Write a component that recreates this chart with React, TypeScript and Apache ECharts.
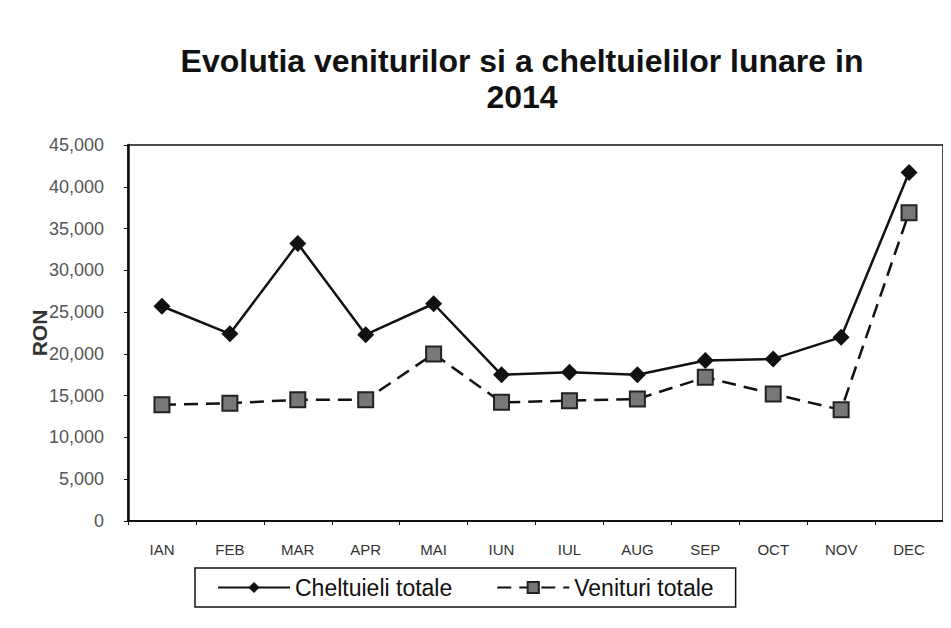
import React, { useEffect, useRef } from "react";
import * as echarts from "echarts";

const months = ["IAN", "FEB", "MAR", "APR", "MAI", "IUN", "IUL", "AUG", "SEP", "OCT", "NOV", "DEC"];
const cheltuieli = [25700, 22400, 33200, 22300, 26000, 17500, 17800, 17500, 19200, 19400, 22000, 41700];
const venituri = [13900, 14100, 14500, 14500, 20000, 14200, 14400, 14600, 17200, 15200, 13300, 36900];
const yTicks = [0, 5000, 10000, 15000, 20000, 25000, 30000, 35000, 40000, 45000];

const fmt = (v: number) => (v === 0 ? "0" : `${Math.floor(v / 1000)},${String(v % 1000).padStart(3, "0")}`);

export default function App() {
  const ref = useRef<HTMLDivElement>(null);
  useEffect(() => {
    if (!ref.current) return;
    const chart = echarts.init(ref.current, undefined, { renderer: "svg" });
    chart.setOption({
      animation: false,
      backgroundColor: "#ffffff",
      textStyle: { fontFamily: "Liberation Sans, Arial, sans-serif" },
      title: {
        text: "Evolutia veniturilor si a cheltuielilor lunare in\n2014",
        left: 509,
        textAlign: "center",
        top: 30,
        textStyle: { fontSize: 32, fontWeight: "bold", color: "#111", lineHeight: 36 },
      },
      grid: {
        left: 120,
        top: 137,
        right: 0,
        bottom: 99,
        show: true,
        borderColor: "#111",
        borderWidth: 1.5,
        containLabel: false,
      },
      legend: {
        left: 187,
        top: 560,
        itemWidth: 72,
        itemHeight: 14,
        itemGap: 44,
        padding: [8, 22, 8, 22],
        borderColor: "#111",
        borderWidth: 1.5,
        textStyle: { fontSize: 23, color: "#111" },
        data: ["Cheltuieli totale", "Venituri totale"],
      },
      xAxis: {
        type: "category",
        data: months,
        boundaryGap: true,
        axisLine: { lineStyle: { color: "#111", width: 2 } },
        axisTick: { show: true, length: 4, lineStyle: { color: "#111" } },
        axisLabel: { fontSize: 15, color: "#333", margin: 21 },
      },
      yAxis: {
        type: "value",
        min: 0,
        max: 45000,
        interval: 5000,
        name: "RON",
        nameLocation: "middle",
        nameGap: 78,
        nameMoveOverlap: false,
        nameRotate: 90,
        nameTextStyle: { fontSize: 21, fontWeight: "bold", color: "#333" },
        axisLine: { show: true, lineStyle: { color: "#111", width: 2.5 } },
        axisTick: { show: true, length: 4, lineStyle: { color: "#111" } },
        splitLine: { show: false },
        axisLabel: {
          fontSize: 18,
          color: "#555",
          margin: 24,
          formatter: (v: number) => (yTicks.includes(v) ? fmt(v) : ""),
        },
      },
      series: [
        {
          name: "Cheltuieli totale",
          type: "line",
          data: cheltuieli,
          symbol: "diamond",
          symbolSize: 17,
          lineStyle: { color: "#111", width: 2.5, type: "solid" },
          itemStyle: { color: "#111" },
        },
        {
          name: "Venituri totale",
          type: "line",
          data: venituri,
          symbol: "rect",
          symbolSize: 15,
          lineStyle: { color: "#111", width: 2.5, type: [14, 8] },
          itemStyle: { color: "#777", borderColor: "#222", borderWidth: 2 },
        },
      ],
    });
    return () => chart.dispose();
  }, []);
  return <div ref={ref} style={{ width: 935, height: 612 }} />;
}
